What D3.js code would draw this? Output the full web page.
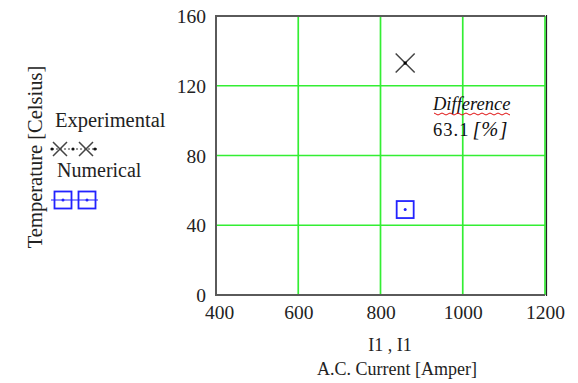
<!DOCTYPE html>
<html><head><meta charset="utf-8">
<script src="https://cdn.jsdelivr.net/npm/d3@7"></script>
<style>html,body{margin:0;padding:0;background:#fff;}svg{display:block;}</style>
</head><body>
<svg id="c" width="578" height="383"></svg>
<script>
const xTicks = [400, 600, 800, 1000, 1200];
const yTicks = [0, 40, 80, 120, 160];
const experimental = [{x: 860, y: 133}];
const numerical = [{x: 860, y: 49}];
const legendLabels = ["Experimental", "Numerical"];
const xTitle1 = "I1 , I1";
const xTitle2 = "A.C. Current [Amper]";
const yTitle = "Temperature [Celsius]";
const diffLabel = "Difference";
const diffValue = "63.1";
const diffUnit = "[%]";

const svg = d3.select("#c");
const font = "'Liberation Serif','Times New Roman',serif";
const x = d3.scaleLinear().domain([400, 1200]).range([216, 545]);
const y = d3.scaleLinear().domain([0, 160]).range([295, 16]);
const green = "#33ee33";

// grid
svg.append("g").selectAll("line").data(xTicks.slice(1)).join("line")
  .attr("x1", d => x(d)).attr("x2", d => x(d)).attr("y1", y(160)).attr("y2", y(0))
  .attr("stroke", green).attr("stroke-width", 1.7);
svg.append("g").selectAll("line").data(yTicks.slice(1, -1)).join("line")
  .attr("y1", d => y(d)).attr("y2", d => y(d)).attr("x1", x(400)).attr("x2", x(1200))
  .attr("stroke", green).attr("stroke-width", 1.7);

// frame
svg.append("path")
  .attr("d", `M${x(1200)},${y(160)}H${x(400)}V${y(0)}H${x(1200)}`)
  .attr("fill", "none").attr("stroke", "#5a5a5a").attr("stroke-width", 2);
svg.append("line").attr("x1", x(1200) + 1.5).attr("x2", x(1200) + 1.5)
  .attr("y1", y(160) - 1).attr("y2", y(0) + 1).attr("stroke", "#222").attr("stroke-width", 1.2);

// axes labels via d3 axes
const xAxis = svg.append("g").attr("transform", `translate(0,${y(0)})`)
  .call(d3.axisBottom(x).tickValues(xTicks).tickSize(0).tickPadding(10).tickFormat(d3.format("d")));
xAxis.select(".domain").remove();
xAxis.selectAll("text").attr("font-family", font).attr("font-size", 19.5).attr("fill", "#222")
  .attr("dx", (d) => d === 400 ? 3 : 0);
const yAxis = svg.append("g").attr("transform", `translate(${x(400)},0)`)
  .call(d3.axisLeft(y).tickValues(yTicks).tickSize(0).tickPadding(10).tickFormat(d3.format("d")));
yAxis.select(".domain").remove();
yAxis.selectAll("text").attr("font-family", font).attr("font-size", 19.5).attr("fill", "#222")
  .attr("dy", "0.34em");

// titles
svg.append("text").attr("x", 390).attr("y", 351).attr("text-anchor", "middle")
  .attr("font-family", font).attr("font-size", 18).attr("fill", "#222").text(xTitle1);
svg.append("text").attr("x", 397).attr("y", 375).attr("text-anchor", "middle")
  .attr("font-family", font).attr("font-size", 18).attr("fill", "#222").text(xTitle2);
svg.append("text").attr("transform", "translate(42,157) rotate(-90)").attr("text-anchor", "middle")
  .attr("font-family", font).attr("font-size", 20.5).attr("fill", "#222").text(yTitle);

// markers
function drawX(g, cx, cy, r, w) {
  g.append("path").attr("d", `M${cx - r},${cy - r}L${cx + r},${cy + r}M${cx - r},${cy + r}L${cx + r},${cy - r}`)
    .attr("stroke", "#444").attr("stroke-width", w).attr("fill", "none");
}
function drawSq(g, cx, cy, r) {
  g.append("rect").attr("x", cx - r).attr("y", cy - r).attr("width", 2 * r).attr("height", 2 * r)
    .attr("stroke", "#2222ff").attr("stroke-width", 1.8).attr("fill", "none");
  g.append("circle").attr("cx", cx).attr("cy", cy).attr("r", 1.5).attr("fill", "#2222ff");
}
const mk = svg.append("g");
experimental.forEach(d => {
  drawX(mk, x(d.x), y(d.y), 9.5, 1.5);
  mk.append("rect").attr("x", x(d.x) - 1.5).attr("y", y(d.y) - 1.5).attr("width", 3).attr("height", 3).attr("fill", "#000");
});
numerical.forEach(d => drawSq(mk, x(d.x), y(d.y), 8.5));

// legend
const lg = svg.append("g");
lg.append("text").attr("x", 55).attr("y", 127).attr("font-family", font).attr("font-size", 20.5)
  .attr("fill", "#222").text(legendLabels[0]);
lg.append("line").attr("x1", 52).attr("x2", 97).attr("y1", 149).attr("y2", 149)
  .attr("stroke", "#333").attr("stroke-width", 1).attr("stroke-dasharray", "2,2");
drawX(lg, 60, 149, 7, 1.5);
drawX(lg, 86, 149, 7, 1.5);
[52, 73, 95].forEach(cx => lg.append("circle").attr("cx", cx).attr("cy", 149).attr("r", 1.6).attr("fill", "#111"));
lg.append("text").attr("x", 57).attr("y", 177).attr("font-family", font).attr("font-size", 20)
  .attr("fill", "#222").text(legendLabels[1]);
lg.append("line").attr("x1", 51).attr("x2", 98).attr("y1", 200).attr("y2", 200)
  .attr("stroke", "#2222ff").attr("stroke-width", 1.2);
drawSq(lg, 63, 200, 8.5);
drawSq(lg, 87, 200, 8.5);

// difference annotation
const an = svg.append("g");
an.append("text").attr("x", 433).attr("y", 110).attr("font-family", font).attr("font-size", 18.5)
  .attr("font-style", "italic").attr("fill", "#111").text(diffLabel);
let wave = "M434,113";
for (let i = 0; i < 19; i++) wave += `l4,${i % 2 ? -2 : 2}`;
an.append("path").attr("d", wave).attr("stroke", "#e01010").attr("stroke-width", 1).attr("fill", "none");
const t2 = an.append("text").attr("x", 433).attr("y", 136).attr("font-family", font).attr("font-size", 18.5).attr("fill", "#111");
t2.append("tspan").attr("letter-spacing", 1).text(diffValue);
t2.append("tspan").attr("dx", 3).attr("font-style", "italic").attr("font-size", 20.5).attr("letter-spacing", 1).text(diffUnit);
</script>
</body></html>
